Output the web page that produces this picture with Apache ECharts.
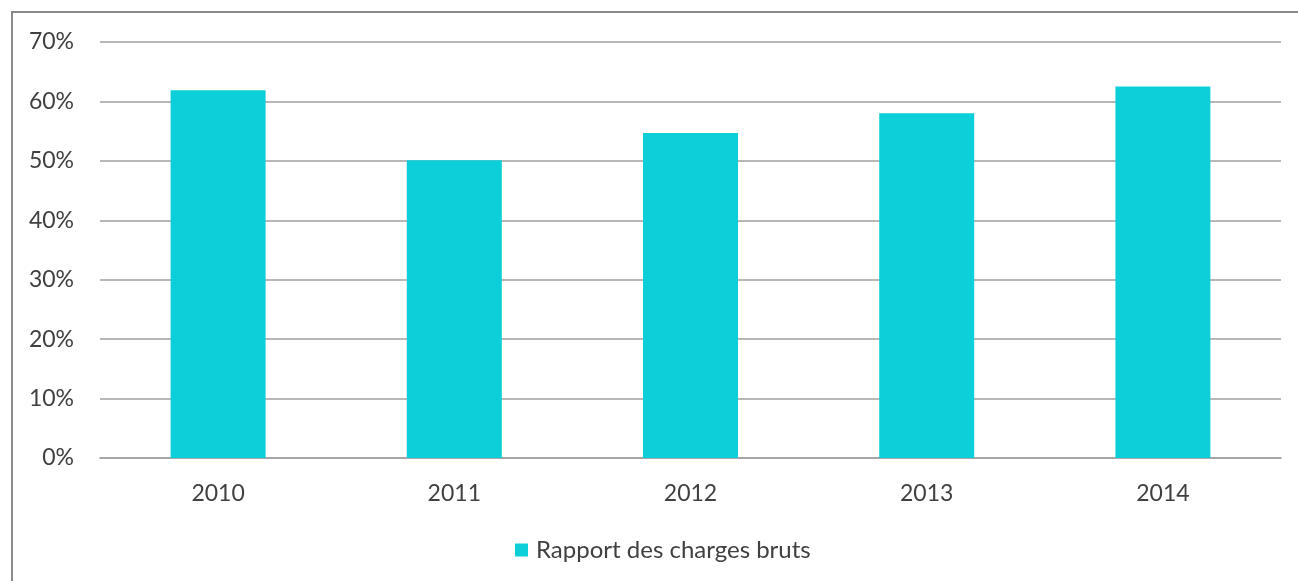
<!DOCTYPE html>
<html>
<head>
<meta charset="utf-8">
<script src="https://cdn.jsdelivr.net/npm/echarts@6/dist/echarts.min.js"></script>
<style>
html,body{margin:0;padding:0;background:#fff;}
#c{width:1298px;height:581px;}
</style>
</head>
<body>
<div id="c"></div>
<script>
const categories = ['2010', '2011', '2012', '2013', '2014'];
const seriesName = 'Rapport des charges bruts';
const values = [61.9, 50.1, 54.7, 58.0, 62.5];
const yTicks = [0, 10, 20, 30, 40, 50, 60, 70];

const FONT = 'Lato, "Open Sans", sans-serif';
const chart = echarts.init(document.getElementById('c'));
chart.setOption({
  backgroundColor: '#fff',
  animation: false,
  graphic: [{
    type: 'rect',
    shape: { x: 12, y: 12, width: 1400, height: 700 },
    style: { fill: 'none', stroke: '#8a8a8a', lineWidth: 2 },
    silent: true
  }],
  grid: { left: 100, right: 17, top: 42, bottom: 123, containLabel: false },
  legend: {
    data: [seriesName],
    top: 533,
    left: 510,
    itemWidth: 13, itemHeight: 13, itemGap: 8,
    icon: 'rect',
    textStyle: { fontFamily: FONT, fontSize: 24, color: '#404040', padding: [0, 0, 0, 3] }
  },
  xAxis: {
    type: 'category',
    data: categories,
    axisLine: { show: true, lineStyle: { color: '#a0a0a0', width: 1.5 } },
    axisTick: { show: false },
    axisLabel: { fontFamily: FONT, fontSize: 23, color: '#404040', margin: 24 }
  },
  yAxis: {
    type: 'value',
    min: yTicks[0],
    max: yTicks[yTicks.length - 1],
    interval: 10,
    axisLine: { show: false },
    axisTick: { show: false },
    splitLine: { lineStyle: { color: '#a0a0a0', width: 1.5 } },
    axisLabel: { fontFamily: FONT, fontSize: 23, color: '#404040', margin: 26, formatter: v => v + '%' }
  },
  series: [{
    name: seriesName,
    type: 'bar',
    data: values,
    barWidth: 95,
    itemStyle: { color: '#0dcfd9' }
  }]
});
</script>
</body>
</html>
